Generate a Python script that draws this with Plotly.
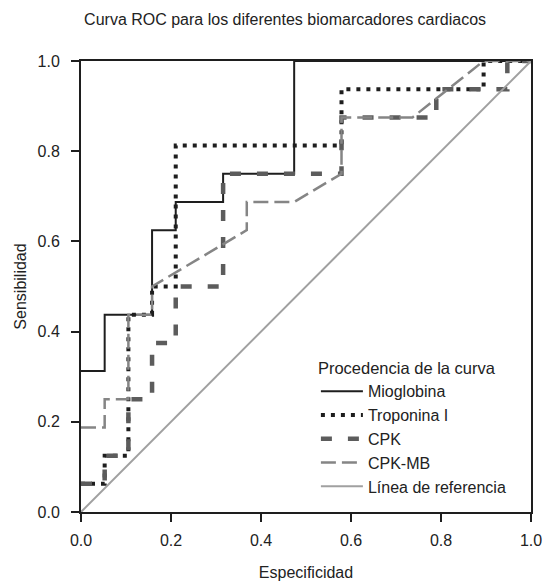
import plotly.graph_objects as go

# Data (x: Especificidad axis, y: Sensibilidad)
mio_x = [0, 0.0526, 0.0526, 0.1579, 0.1579, 0.2105, 0.2105, 0.3158, 0.3158, 0.4737, 0.4737, 1.0]
mio_y = [0.3125, 0.3125, 0.4375, 0.4375, 0.625, 0.625, 0.6875, 0.6875, 0.75, 0.75, 1.0, 1.0]

trop_x = [0, 0.0526, 0.0526, 0.1053, 0.1053, 0.1579, 0.1579, 0.2105, 0.2105, 0.5789, 0.5789, 0.8947, 0.8947, 1.0]
trop_y = [0.0625, 0.0625, 0.125, 0.125, 0.4375, 0.4375, 0.5, 0.5, 0.8125, 0.8125, 0.9375, 0.9375, 1.0, 1.0]

cpk_x = [0, 0.0526, 0.0526, 0.1053, 0.1053, 0.1579, 0.1579, 0.2105, 0.2105, 0.3158, 0.3158,
         0.5789, 0.5789, 0.7895, 0.7895, 0.9474, 0.9474, 1.0]
cpk_y = [0.0625, 0.0625, 0.125, 0.125, 0.25, 0.25, 0.375, 0.375, 0.5, 0.5, 0.75,
         0.75, 0.875, 0.875, 0.9375, 0.9375, 1.0, 1.0]

cpkmb_x = [0, 0.0526, 0.0526, 0.1053, 0.1053, 0.1579, 0.1579, 0.3684, 0.3684, 0.4737,
           0.5789, 0.5789, 0.7368, 0.8947, 1.0]
cpkmb_y = [0.1875, 0.1875, 0.25, 0.25, 0.4375, 0.4375, 0.5, 0.625, 0.6875, 0.6875,
           0.75, 0.875, 0.875, 1.0, 1.0]

ref_x = [0, 1]
ref_y = [0, 1]

tick_vals = [0, 0.2, 0.4, 0.6, 0.8, 1.0]
tick_text = ["0.0", "0.2", "0.4", "0.6", "0.8", "1.0"]

FONT = "Liberation Sans, Arial, Helvetica, sans-serif"
INK = "#222222"

fig = go.Figure()
fig.add_trace(go.Scatter(x=mio_x, y=mio_y, mode="lines", name="Mioglobina",
                         line=dict(color="#1e1e1e", width=2)))
fig.add_trace(go.Scatter(x=trop_x, y=trop_y, mode="lines", name="Troponina I",
                         line=dict(color="#1e1e1e", width=4, dash="4px,6px")))
fig.add_trace(go.Scatter(x=cpk_x, y=cpk_y, mode="lines", name="CPK",
                         line=dict(color="#5c5c5c", width=4.5, dash="11px,16px")))
fig.add_trace(go.Scatter(x=cpkmb_x, y=cpkmb_y, mode="lines", name="CPK-MB",
                         line=dict(color="#858585", width=2.5, dash="15px,6px")))
fig.add_trace(go.Scatter(x=ref_x, y=ref_y, mode="lines", name="Línea de referencia",
                         line=dict(color="#a0a0a0", width=2)))

axis_common = dict(
    range=[0, 1], tickvals=tick_vals, ticktext=tick_text,
    ticks="outside", ticklen=8, tickwidth=1.5, tickcolor="#1e1e1e",
    showline=True, linecolor="#1e1e1e", linewidth=2, mirror=True,
    showgrid=False, zeroline=False, layer="above traces", automargin=False,
    ticklabeloverflow="allow",
    tickfont=dict(family=FONT, size=16, color=INK),
)

fig.update_layout(
    width=543, height=583,
    margin=dict(l=81, r=12, t=61, b=71, autoexpand=False),
    paper_bgcolor="white", plot_bgcolor="white",
    font=dict(family=FONT, size=16, color=INK),
    title=dict(text="Curva ROC para los diferentes biomarcadores cardiacos",
               x=0.525, xanchor="center", y=0.967, yanchor="middle",
               font=dict(family=FONT, size=16, color=INK)),
    xaxis=dict(**axis_common, ticklabelstandoff=5,
               title=dict(text="Especificidad", standoff=19,
                          font=dict(family=FONT, size=16, color=INK))),
    yaxis=dict(**axis_common, ticklabelstandoff=8,
               title=dict(text="Sensibilidad", standoff=7,
                          font=dict(family=FONT, size=16, color=INK))),
    legend=dict(
        x=0.522, y=0.353, xanchor="left", yanchor="top",
        bgcolor="rgba(255,255,255,0)", borderwidth=0,
        title=dict(text="Procedencia de la curva", font=dict(family=FONT, size=16.5, color=INK)),
        font=dict(family=FONT, size=16, color=INK),
        itemwidth=42,
    ),
)

fig.write_html("out.html", config={"displayModeBar": False},
               post_script="document.body.style.margin='0px';")
